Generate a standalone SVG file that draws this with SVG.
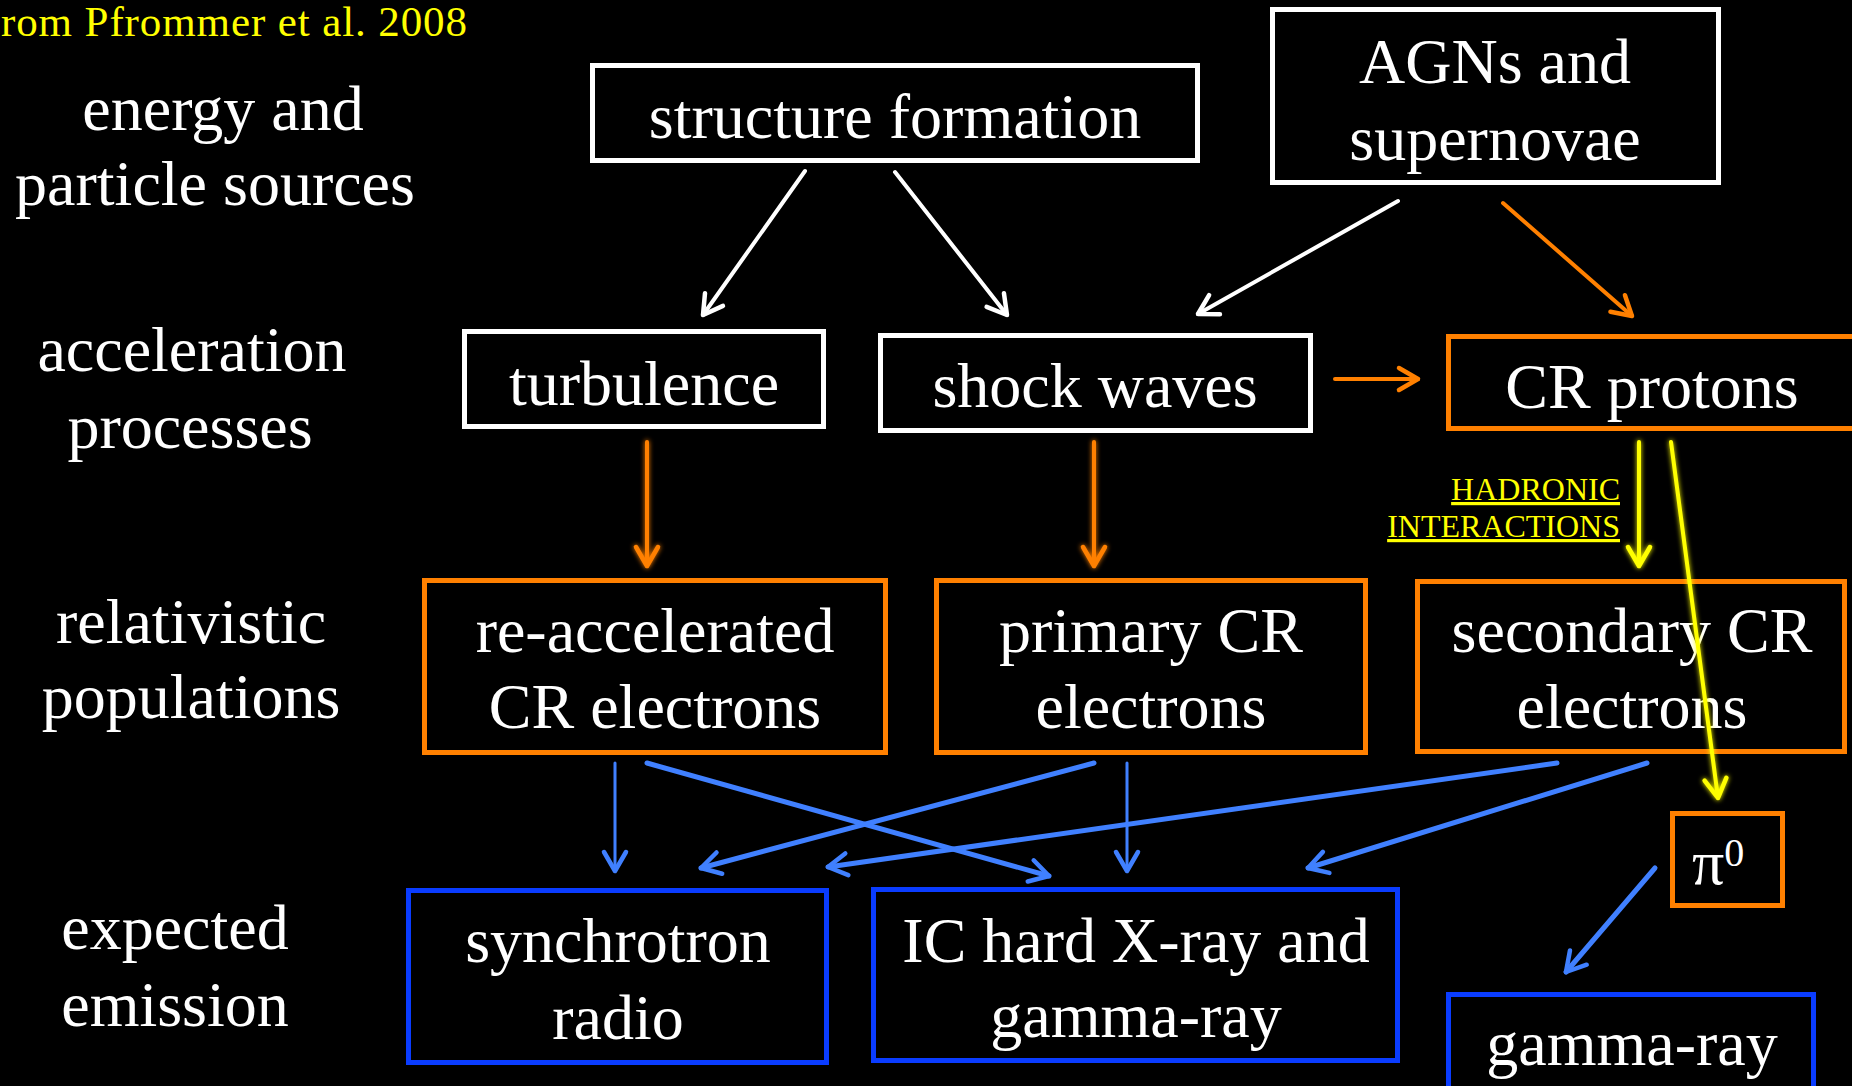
<svg xmlns="http://www.w3.org/2000/svg" width="1852" height="1086" viewBox="0 0 1852 1086">
<style>
  text { font-family: "Liberation Serif", "Times New Roman", serif; }
  .t { fill: #ffffff; font-size: 64px; text-anchor: middle; }
  .lbl { fill: #ffffff; font-size: 64px; text-anchor: middle; }
  .bw { fill: #000000; stroke: #ffffff; stroke-width: 5; }
  .bo { fill: #000000; stroke: #ff8000; stroke-width: 5; }
  .bb { fill: #000000; stroke: #0a3cff; stroke-width: 5; }
  .cw { fill: none; stroke: #ffffff; stroke-width: 4; stroke-linecap: round; marker-end: url(#mw); }
  .co { fill: none; stroke: #ff8000; stroke-width: 4; stroke-linecap: round; marker-end: url(#mo); }
  .cy { fill: none; stroke: #ffff00; stroke-width: 4; stroke-linecap: round; marker-end: url(#my); }
  .cb { fill: none; stroke: #4080ff; stroke-width: 5; stroke-linecap: round; marker-end: url(#mb); }
  .cbt { fill: none; stroke: #4080ff; stroke-width: 3; stroke-linecap: round; marker-end: url(#mb); }
  .glow { filter: url(#glow); }
</style>
<defs>
  <filter id="glow" filterUnits="userSpaceOnUse" x="0" y="0" width="1852" height="1086">
    <feGaussianBlur in="SourceGraphic" stdDeviation="2.5" result="b"/>
    <feMerge><feMergeNode in="b"/><feMergeNode in="SourceGraphic"/></feMerge>
  </filter>
  <marker id="mw" markerUnits="userSpaceOnUse" viewBox="0 0 30 30" markerWidth="30" markerHeight="30" refX="26" refY="15" orient="auto">
    <path d="M7,4 L26,15 L7,26" fill="none" stroke="#ffffff" stroke-width="4.5" stroke-linecap="round" stroke-linejoin="round"/>
  </marker>
  <marker id="mo" markerUnits="userSpaceOnUse" viewBox="0 0 30 30" markerWidth="30" markerHeight="30" refX="26" refY="15" orient="auto">
    <path d="M7,4 L26,15 L7,26" fill="none" stroke="#ff8000" stroke-width="4.5" stroke-linecap="round" stroke-linejoin="round"/>
  </marker>
  <marker id="my" markerUnits="userSpaceOnUse" viewBox="0 0 30 30" markerWidth="30" markerHeight="30" refX="26" refY="15" orient="auto">
    <path d="M7,4 L26,15 L7,26" fill="none" stroke="#ffff00" stroke-width="4.5" stroke-linecap="round" stroke-linejoin="round"/>
  </marker>
  <marker id="mb" markerUnits="userSpaceOnUse" viewBox="0 0 30 30" markerWidth="30" markerHeight="30" refX="26" refY="15" orient="auto">
    <path d="M7,4 L26,15 L7,26" fill="none" stroke="#4080ff" stroke-width="4.5" stroke-linecap="round" stroke-linejoin="round"/>
  </marker>
</defs>
<rect x="0" y="0" width="1852" height="1086" fill="#000000"/>

<g id="citation">
  <text x="1" y="36" fill="#ffff00" font-size="43" textLength="466" lengthAdjust="spacing">rom Pfrommer et al. 2008</text>
</g>

<g id="row-labels">
  <text class="lbl" x="223" y="130">energy and</text>
  <text class="lbl" x="215" y="205">particle sources</text>
  <text class="lbl" x="192" y="371">acceleration</text>
  <text class="lbl" x="190" y="448">processes</text>
  <text class="lbl" x="191" y="643">relativistic</text>
  <text class="lbl" x="191" y="718">populations</text>
  <text class="lbl" x="175" y="949">expected</text>
  <text class="lbl" x="175" y="1026">emission</text>
</g>

<g id="connectors">
  <path class="cw" d="M805,171 L703,315"/>
  <path class="cw" d="M895,172 L1007,315"/>
  <path class="cw" d="M1398,201 L1198,314"/>
  <path class="co" d="M1503,203 L1632,316"/>
  <path class="co" d="M1335,379 L1418,379"/>
  <path class="co glow" d="M647,442 L647,566"/>
  <path class="co glow" d="M1094,442 L1094,566"/>
  <path class="cy glow" d="M1639,442 L1639,566"/>
  <path class="cbt" d="M615,763 L615,871"/>
  <path class="cb" d="M647,763 L1049,876"/>
  <path class="cb" d="M1094,763 L701,868"/>
  <path class="cbt" d="M1127,763 L1127,871"/>
  <path class="cb" d="M1557,763 L828,867"/>
  <path class="cb" d="M1647,763 L1308,868"/>
  <path class="cb" d="M1655,868 L1566,972"/>
</g>

<g id="node-structure-formation">
  <rect class="bw" x="592.5" y="65.5" width="605" height="95"/>
  <text class="t" x="895" y="138">structure formation</text>
</g>
<g id="node-agns">
  <rect class="bw" x="1272.5" y="9.5" width="446" height="173"/>
  <text class="t" x="1495" y="83">AGNs and</text>
  <text class="t" x="1495" y="160">supernovae</text>
</g>
<g id="node-turbulence">
  <rect class="bw" x="464.5" y="331.5" width="359" height="95"/>
  <text class="t" x="644" y="405">turbulence</text>
</g>
<g id="node-shock-waves">
  <rect class="bw" x="880.5" y="335.5" width="430" height="95"/>
  <text class="t" x="1095" y="407">shock waves</text>
</g>
<g id="node-cr-protons">
  <rect class="bo" x="1448.5" y="336.5" width="420" height="92"/>
  <text class="t" x="1652" y="408">CR protons</text>
</g>
<g id="node-reaccelerated">
  <rect class="bo" x="424.5" y="580.5" width="461" height="172"/>
  <text class="t" x="655" y="652">re-accelerated</text>
  <text class="t" x="655" y="728">CR electrons</text>
</g>
<g id="node-primary">
  <rect class="bo" x="936.5" y="580.5" width="429" height="172"/>
  <text class="t" x="1151" y="652">primary CR</text>
  <text class="t" x="1151" y="728">electrons</text>
</g>
<g id="node-secondary">
  <rect class="bo" x="1417.5" y="581.5" width="427" height="170"/>
  <text class="t" x="1632" y="652">secondary CR</text>
  <text class="t" x="1632" y="728">electrons</text>
</g>
<g id="connector-hadronic">
  <path class="cy glow" d="M1671,442 L1718,798"/>
  <text x="1620" y="500" fill="#ffff00" font-size="32" text-anchor="end" text-decoration="underline">HADRONIC</text>
  <text x="1620" y="537" fill="#ffff00" font-size="32" text-anchor="end" text-decoration="underline">INTERACTIONS</text>
</g>
<g id="node-pi0">
  <rect class="bo" x="1672.5" y="813.5" width="110" height="92"/>
  <text x="1692" y="884" fill="#ffffff" font-size="64">π<tspan font-size="40" dy="-18">0</tspan></text>
</g>
<g id="node-synchrotron">
  <rect class="bb" x="408.5" y="890.5" width="418" height="172"/>
  <text class="t" x="618" y="962">synchrotron</text>
  <text class="t" x="618" y="1039">radio</text>
</g>
<g id="node-ic">
  <rect class="bb" x="873.5" y="889.5" width="524" height="171"/>
  <text class="t" x="1136" y="962">IC hard X-ray and</text>
  <text class="t" x="1136" y="1037">gamma-ray</text>
</g>
<g id="node-gamma-ray">
  <rect class="bb" x="1448.5" y="994.5" width="365" height="120"/>
  <text class="t" x="1632" y="1065">gamma-ray</text>
</g>
</svg>
